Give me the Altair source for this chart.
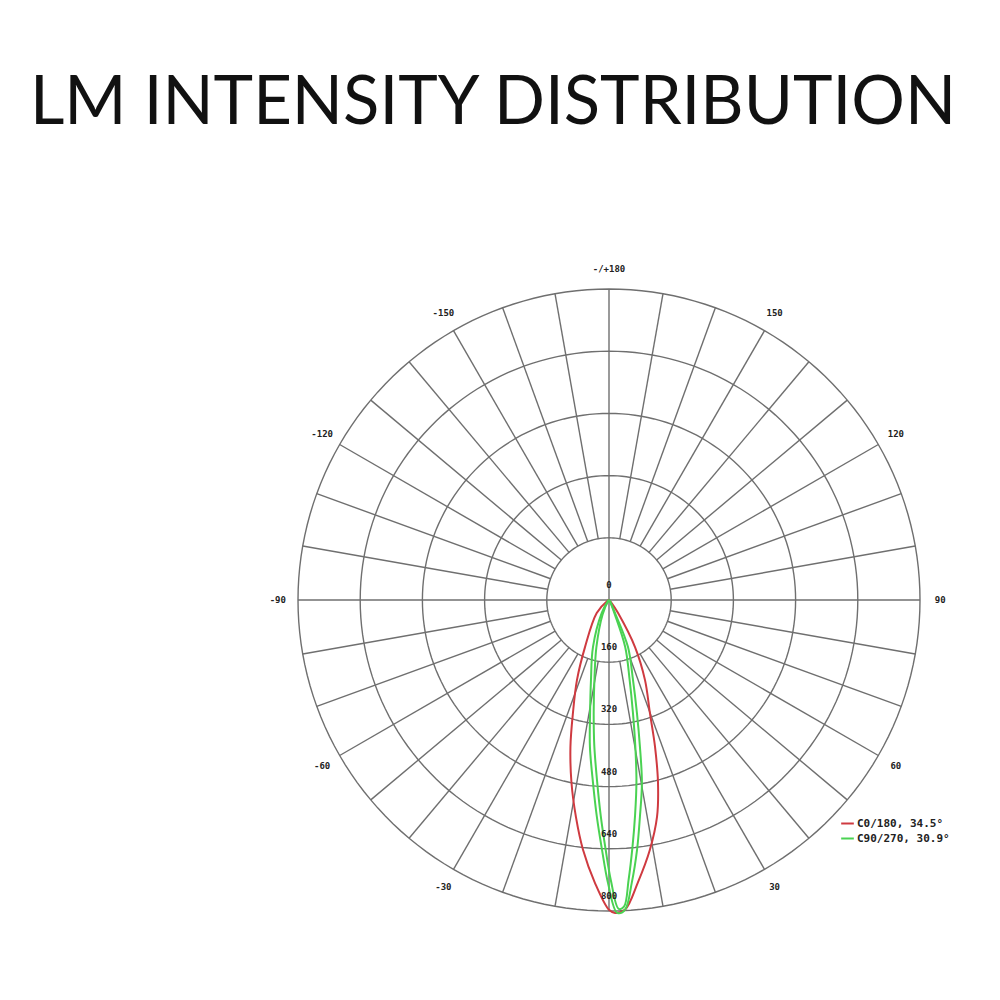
import altair as alt
import pandas as pd

title_text = "LM INTENSITY DISTRIBUTION"

# candela rings and their labels on the 0 deg axis
ring_values = [160, 320, 480, 640, 800]
ring_label_values = [0, 160, 320, 480, 640, 800]

# gamma angle labels round the outside
angle_label_deg = [180, 150, 120, 90, 60, 30, -30, -60, -90, -120, -150]
angle_label_txt = ["-/+180", "150", "120", "90", "60", "30", "-30", "-60", "-90", "-120", "-150"]

spoke_deg = list(range(0, 360, 10))

legend_names = ["C0/180, 34.5°", "C90/270, 30.9°"]
legend_colors = ["#cf3a40", "#4ad252"]

# C0/180 plane
red_angle = [-90, -60, -43.4, -27, -21.8, -17.7, -14.7, -11.6, -8.65, -5.94, -2.83, 0, 1.1,
             2.95, 5.85, 9.3, 12.5, 15, 17.4, 19.9, 24.2, 28.9, 34.7, 40, 60, 90]
red_cd = [0, 5, 46, 136, 222, 305, 391, 480, 565, 646, 729, 797, 805,
          798, 730, 651, 571, 487, 396, 309, 226, 139, 41, 12, 0, 0]

# C90/270 plane, outer trace
green_angle = [-90, -45, -29.3, -18.8, -12.7, -9.5, -7.4, -5.0, -3.2, -1.6, -0.2, 1.5,
               2.95, 4.6, 6.4, 8.1, 10.2, 11.9, 13.9, 16.7, 22, 24.8, 35, 90]
green_cd = [0, 3, 38, 128, 211, 295, 381, 472, 559, 643, 728, 805,
            798, 730, 647, 564, 478, 386, 299, 215, 130, 37, 5, 0]

# C90/270 plane, inner trace
green2_angle = [-90, -40, -24, -15, -10.5, -7.8, -5.8, -3.8, -2.2, -0.8, 0.4, 1.8,
                2.8, 4.0, 5.4, 6.9, 8.6, 10.2, 12, 14.5, 19, 22, 32, 90]
green2_cd = [0, 3, 40, 125, 205, 290, 375, 465, 555, 640, 722, 795,
             790, 722, 640, 558, 472, 382, 296, 212, 128, 40, 4, 0]

# geometry of the drawing (pixels inside the view)
W = H = 984
CX, CY = 601, 592
R_PX = 311
I_MAX = ring_values[-1]
k = R_PX / I_MAX
x_scale = alt.Scale(domain=[-CX / k, (W - CX) / k], nice=False, zero=False)
y_scale = alt.Scale(domain=[-(H - CY) / k, CY / k], nice=False, zero=False)

GRID = "#6f6f6f"
LABEL_FONT = "DejaVu Sans Mono"


def polar(chart, r="r", a="a", px="px", py="py"):
    return chart.transform_calculate(
        **{px: f"datum.{r} * sin(datum.{a} * PI / 180)",
           py: f"-datum.{r} * cos(datum.{a} * PI / 180)"}
    )


# rings
ring_rows = [{"ring": v, "a": a, "r": v} for v in ring_values for a in range(0, 362, 2)]
rings = polar(alt.Chart(pd.DataFrame(ring_rows))).mark_line(
    color=GRID, strokeWidth=1.4
).encode(
    x=alt.X("px:Q", scale=x_scale, axis=None),
    y=alt.Y("py:Q", scale=y_scale, axis=None),
    detail="ring:N",
    order="a:Q",
)

# spokes, the four main axes cross the centre
spoke_df = pd.DataFrame({
    "a": spoke_deg,
    "r0": [0 if d % 90 == 0 else ring_values[0] for d in spoke_deg],
    "r1": [I_MAX] * len(spoke_deg),
})
spokes = polar(polar(alt.Chart(spoke_df), r="r0", px="x0", py="y0"), r="r1", px="x1", py="y1").mark_rule(
    color=GRID, strokeWidth=1.4
).encode(
    x=alt.X("x0:Q", scale=x_scale, axis=None),
    y=alt.Y("y0:Q", scale=y_scale, axis=None),
    x2="x1:Q",
    y2="y1:Q",
)

# intensity curves
curve_rows = []
for name, trace, angs, vals in [
    (legend_names[0], "a", red_angle, red_cd),
    (legend_names[1], "a", green_angle, green_cd),
    (legend_names[1], "b", green2_angle, green2_cd),
]:
    for i, (a, v) in enumerate(zip(angs, vals)):
        curve_rows.append({"plane": name, "trace": trace, "a": a, "r": v, "o": i})
curves = polar(alt.Chart(pd.DataFrame(curve_rows))).mark_line(
    strokeWidth=2, interpolate="catmull-rom"
).encode(
    x=alt.X("px:Q", scale=x_scale, axis=None),
    y=alt.Y("py:Q", scale=y_scale, axis=None),
    color=alt.Color(
        "plane:N",
        scale=alt.Scale(domain=legend_names, range=legend_colors),
        legend=alt.Legend(
            title=None, orient="none", legendX=832, legendY=808,
            symbolType="stroke", symbolSize=160, symbolStrokeWidth=2,
            labelFont=LABEL_FONT, labelFontSize=11, labelFontWeight="bold",
            labelColor="#222", rowPadding=2, symbolOffset=0, labelOffset=2,
        ),
    ),
    detail="trace:N",
    order="o:Q",
)

# gamma labels
angle_df = pd.DataFrame({"a": angle_label_deg, "t": angle_label_txt, "r": [852] * len(angle_label_deg)})
angle_text = polar(alt.Chart(angle_df)).mark_text(
    font=LABEL_FONT, fontSize=9, fontWeight="bold", color="#222", baseline="middle"
).encode(
    x=alt.X("px:Q", scale=x_scale, axis=None),
    y=alt.Y("py:Q", scale=y_scale, axis=None),
    text="t:N",
)

# candela labels down the 0 axis
ring_label_df = pd.DataFrame({"a": [0] * len(ring_label_values), "r": ring_label_values,
                              "t": [str(v) for v in ring_label_values]})
ring_text = polar(alt.Chart(ring_label_df)).mark_text(
    font=LABEL_FONT, fontSize=9, fontWeight="bold", color="#222", baseline="middle", dy=-15
).encode(
    x=alt.X("px:Q", scale=x_scale, axis=None),
    y=alt.Y("py:Q", scale=y_scale, axis=None),
    text="t:N",
)

title = alt.Chart(pd.DataFrame({"t": [title_text]})).mark_text(
    font="Lato", fontSize=67, color="#111", baseline="middle", align="center"
).encode(x=alt.value(485), y=alt.value(96), text="t:N")

chart = alt.layer(rings, spokes, curves, ring_text, angle_text, title).properties(
    width=W, height=H, autosize=alt.AutoSizeParams(type="none"), padding=0
).configure_view(stroke=None)

chart.save("out.html", embed_options={"renderer": "svg", "actions": False})
